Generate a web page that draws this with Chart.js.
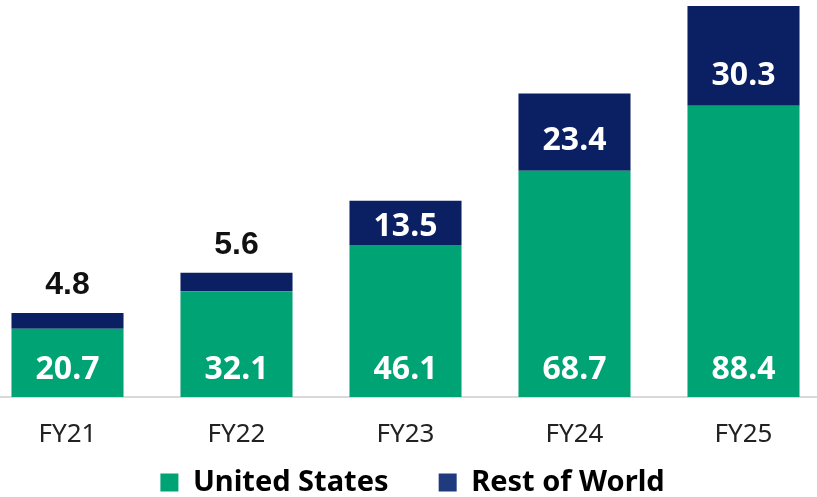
<!DOCTYPE html>
<html>
<head>
<meta charset="utf-8">
<script src="https://cdn.jsdelivr.net/npm/chart.js@4.4.0/dist/chart.umd.min.js"></script>
<style>
  html, body { margin: 0; padding: 0; background: #fff; overflow: hidden; }
  #wrap { position: absolute; left: -17px; top: 0; width: 859px; height: 507px; }
</style>
</head>
<body>
<div id="wrap"><canvas id="js--sales_chart" width="859" height="507"></canvas></div>
<script>
var years = ['FY21', 'FY22', 'FY23', 'FY24', 'FY25'];
var unitedStates = [20.7, 32.1, 46.1, 68.7, 88.4];
var restOfWorld = [4.8, 5.6, 13.5, 23.4, 30.3];

var green = '#00a374';
var navy = '#0b1f63';
var legendNavy = '#1f3a7d';

// value labels drawn on / above the bars
var barLabels = {
    id: 'barLabels',
    afterDatasetsDraw: function (chart) {
        var ctx = chart.ctx;
        ctx.save();
        ctx.textAlign = 'center';
        ctx.textBaseline = 'middle';
        chart.data.datasets.forEach(function (ds, i) {
            chart.getDatasetMeta(i).data.forEach(function (bar, j) {
                var txt = ds.data[j].toFixed(1);
                var h = bar.base - bar.y;
                var y;
                ctx.font = 'bold 32px "Noto Sans"';
                if (i === 0) {
                    ctx.fillStyle = '#fff';
                    y = bar.base - 27;
                } else if (h < 30) {
                    ctx.font = 'bold 32px "Liberation Sans"';
                    ctx.fillStyle = '#111';
                    y = bar.y - 28;
                } else {
                    ctx.fillStyle = '#fff';
                    y = h > 60 ? bar.base - 30 : (bar.y + bar.base) / 2 + 4;
                }
                ctx.fillText(txt, bar.x, y);
            });
        });
        ctx.restore();
    }
};

var cntxt = document.getElementById('js--sales_chart');

var myChart = new Chart(cntxt, {
    type: 'bar',
    data: {
        labels: years,
        datasets: [
            {
                label: 'United States',
                data: unitedStates,
                backgroundColor: green,
                barPercentage: 0.663,
                categoryPercentage: 1
            },
            {
                label: 'Rest of World',
                data: restOfWorld,
                backgroundColor: navy,
                barPercentage: 0.663,
                categoryPercentage: 1
            }
        ]
    },
    options: {
        responsive: false,
        animation: false,
        layout: { padding: 0 },
        scales: {
            x: {
                stacked: true,
                grid: { display: false, drawTicks: false },
                border: { display: true, color: '#d9d9d9', width: 2 },
                ticks: {
                    color: '#222',
                    padding: 22,
                    font: { family: 'Noto Sans', size: 26 }
                },
                afterFit: function (scale) { scale.height = 51; }
            },
            y: {
                stacked: true,
                position: 'right',
                min: 0,
                max: 120.5,
                grid: { display: false },
                border: { display: false },
                ticks: { display: false },
                afterFit: function (scale) { scale.width = 14; }
            }
        },
        plugins: {
            tooltip: { enabled: false },
            legend: {
                position: 'bottom',
                labels: {
                    boxWidth: 18,
                    boxHeight: 18,
                    padding: 20,
                    color: '#111',
                    font: { family: 'Noto Sans', size: 29, weight: 'bold' },
                    generateLabels: function (chart) {
                        return [
                            { text: 'United States    ', fillStyle: green, strokeStyle: green, lineWidth: 0, datasetIndex: 0 },
                            { text: 'Rest of World', fillStyle: legendNavy, strokeStyle: legendNavy, lineWidth: 0, datasetIndex: 1 }
                        ];
                    }
                }
            }
        }
    },
    plugins: [barLabels]
});
</script>
</body>
</html>
